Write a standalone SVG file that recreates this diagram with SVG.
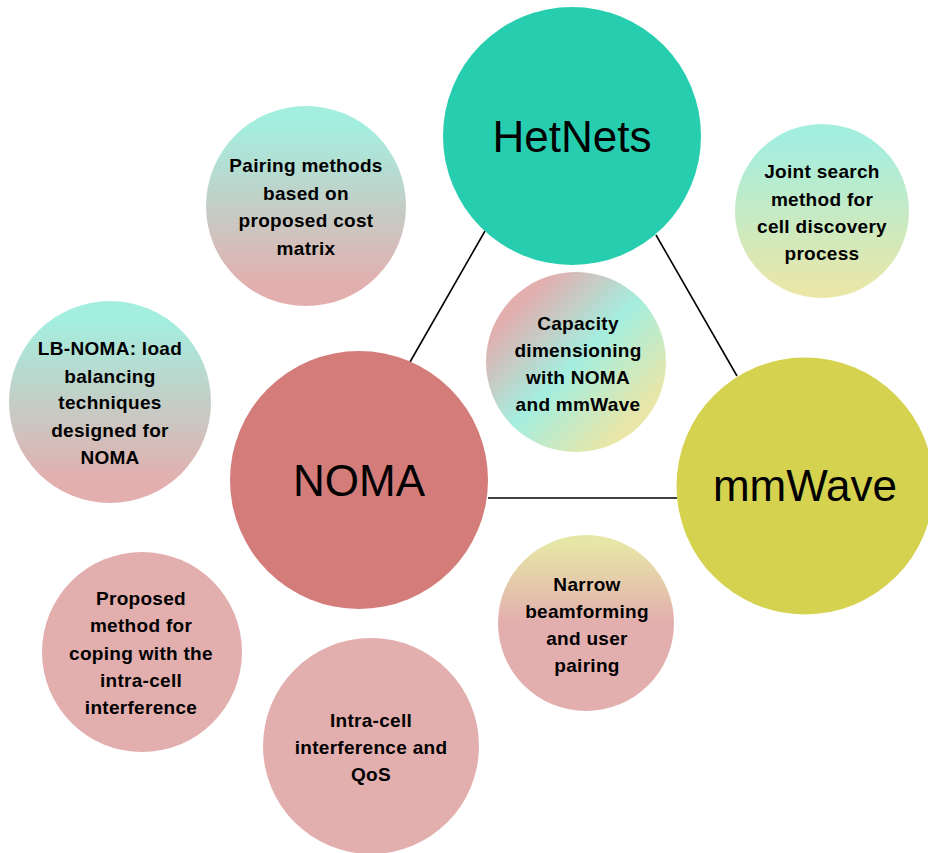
<svg xmlns="http://www.w3.org/2000/svg" width="928" height="853" viewBox="0 0 928 853">
<defs>
<linearGradient id="gTealPink" x1="0" y1="0" x2="0" y2="1">
<stop offset="0.1" stop-color="#A4EEDF"/>
<stop offset="0.9" stop-color="#E3AEAE"/>
</linearGradient>
<linearGradient id="gTealYellow" x1="0" y1="0" x2="0" y2="1">
<stop offset="0.1" stop-color="#A4EEDF"/>
<stop offset="0.95" stop-color="#E9E6A8"/>
</linearGradient>
<linearGradient id="gYellowPink" x1="0" y1="0" x2="0" y2="1">
<stop offset="0.05" stop-color="#E6E6A6"/>
<stop offset="0.5" stop-color="#E3AEAE"/>
</linearGradient>
<linearGradient id="gCap" x1="0.1" y1="0.1" x2="0.9" y2="0.9">
<stop offset="0.1" stop-color="#E3AEAE"/>
<stop offset="0.5" stop-color="#A4EEDF"/>
<stop offset="0.9" stop-color="#E9E6A8"/>
</linearGradient>
<style>
.big{font-family:"Liberation Sans",Arial,sans-serif;font-size:44px;fill:#000;text-anchor:middle}
.sm{font-family:"Liberation Sans",Arial,sans-serif;font-size:19px;font-weight:bold;fill:#000;text-anchor:middle;letter-spacing:0.3px}
.conn{stroke:#000;stroke-width:1.6;fill:none}
</style>
</defs>
<rect width="928" height="853" fill="#fff"/>
<g id="connectors">
<line class="conn" x1="485" y1="231" x2="410" y2="362"/>
<line class="conn" x1="656" y1="235" x2="737" y2="376"/>
<line class="conn" x1="488" y1="498" x2="677" y2="498"/>
</g>
<g id="hetnets">
<circle cx="572" cy="136" r="129" fill="#26CEAF"/>
<text class="big" x="572" y="152">HetNets</text>
</g>
<g id="noma">
<circle cx="359" cy="480" r="129" fill="#D47C7A"/>
<text class="big" x="359" y="496">NOMA</text>
</g>
<g id="mmwave">
<circle cx="805" cy="486" r="128.5" fill="#D4D24E"/>
<text class="big" x="805" y="501">mmWave</text>
</g>
<g id="pairing">
<circle cx="306" cy="206" r="100" fill="url(#gTealPink)"/>
<text class="sm" x="306" y="172">Pairing methods</text>
<text class="sm" x="306" y="200">based on</text>
<text class="sm" x="306" y="227">proposed cost</text>
<text class="sm" x="306" y="255">matrix</text>
</g>
<g id="joint">
<circle cx="822" cy="211" r="87" fill="url(#gTealYellow)"/>
<text class="sm" x="822" y="178">Joint search</text>
<text class="sm" x="822" y="206">method for</text>
<text class="sm" x="822" y="233">cell discovery</text>
<text class="sm" x="822" y="260">process</text>
</g>
<g id="capacity">
<circle cx="576" cy="362" r="90" fill="url(#gCap)"/>
<text class="sm" x="578" y="330">Capacity</text>
<text class="sm" x="578" y="357">dimensioning</text>
<text class="sm" x="578" y="384">with NOMA</text>
<text class="sm" x="578" y="411">and mmWave</text>
</g>
<g id="lbnoma">
<circle cx="110" cy="402" r="101" fill="url(#gTealPink)"/>
<text class="sm" x="110" y="355">LB-NOMA: load</text>
<text class="sm" x="110" y="383">balancing</text>
<text class="sm" x="110" y="409">techniques</text>
<text class="sm" x="110" y="437">designed for</text>
<text class="sm" x="110" y="464">NOMA</text>
</g>
<g id="narrow">
<circle cx="586" cy="623" r="88" fill="url(#gYellowPink)"/>
<text class="sm" x="587" y="591">Narrow</text>
<text class="sm" x="587" y="618">beamforming</text>
<text class="sm" x="587" y="645">and user</text>
<text class="sm" x="587" y="672">pairing</text>
</g>
<g id="proposed">
<circle cx="142" cy="652" r="100" fill="#E3AEAE"/>
<text class="sm" x="141" y="605">Proposed</text>
<text class="sm" x="141" y="632">method for</text>
<text class="sm" x="141" y="660">coping with the</text>
<text class="sm" x="141" y="687">intra-cell</text>
<text class="sm" x="141" y="714">interference</text>
</g>
<g id="intracell">
<circle cx="371" cy="746" r="108" fill="#E3AEAE"/>
<text class="sm" x="371" y="727">Intra-cell</text>
<text class="sm" x="371" y="754">interference and</text>
<text class="sm" x="371" y="781">QoS</text>
</g>
</svg>
